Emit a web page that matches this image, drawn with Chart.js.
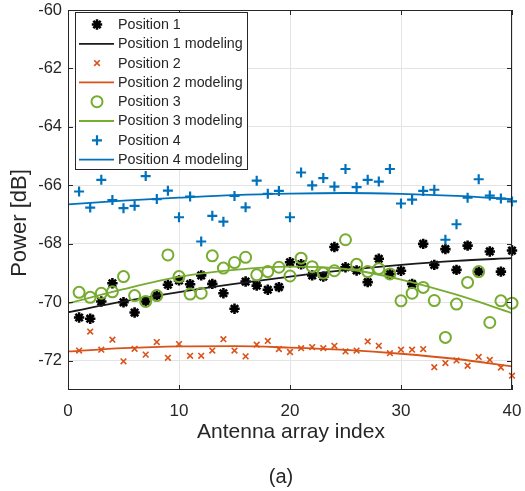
<!DOCTYPE html>
<html>
<head>
<meta charset="utf-8">
<script src="https://cdn.jsdelivr.net/npm/chart.js@4.4.1/dist/chart.umd.min.js"></script>
<style>
  html, body { margin: 0; padding: 0; background: #fff; }
  #c { display: block; }
</style>
</head>
<body>
<canvas id="c" width="525" height="491"></canvas>
<script>
// Measured received power per antenna element, four user positions
const antennaIndex = [1,2,3,4,5,6,7,8,9,10,11,12,13,14,15,16,17,18,19,20,
                      21,22,23,24,25,26,27,28,29,30,31,32,33,34,35,36,37,38,39,40];

const pos1 = [-70.52,-70.56,-69.97,-69.35,-70.00,-70.35,-69.97,-69.77,-69.40,-69.25,
              -69.38,-69.08,-69.37,-69.69,-70.22,-69.29,-69.43,-69.57,-69.48,-68.63,
              -68.70,-69.08,-69.12,-68.11,-68.80,-68.91,-69.31,-68.51,-69.03,-68.92,
              -69.37,-68.00,-68.72,-68.18,-68.89,-68.06,-68.95,-68.26,-68.95,-68.23];

const pos2 = [-71.65,-71.00,-71.62,-71.28,-72.02,-71.59,-71.79,-71.36,-71.90,-71.43,
              -71.83,-71.83,-71.65,-71.26,-71.65,-71.85,-71.45,-71.32,-71.60,-71.70,
              -71.57,-71.53,-71.57,-71.49,-71.68,-71.65,-71.34,-71.49,-71.74,-71.62,
              -71.62,-71.60,-72.22,-72.08,-71.99,-72.17,-71.87,-71.97,-72.23,-72.51];

const pos3 = [-69.66,-69.83,-69.69,-69.64,-69.12,-69.77,-69.97,-69.77,-68.38,-69.12,
              -69.72,-69.69,-68.41,-68.83,-68.64,-68.46,-69.06,-68.95,-68.80,-69.10,
              -68.49,-68.78,-69.00,-68.92,-67.86,-68.70,-68.95,-68.85,-69.03,-69.95,
              -69.69,-69.49,-69.94,-71.20,-70.06,-69.32,-68.95,-70.69,-69.95,-70.03];

const pos4 = [-66.21,-66.76,-65.81,-66.50,-66.78,-66.70,-65.68,-66.47,-66.18,-67.09,
              -66.38,-67.92,-67.04,-67.24,-66.36,-66.75,-65.84,-66.29,-66.19,-67.09,
              -65.56,-66.00,-65.75,-66.04,-65.44,-66.06,-65.81,-65.87,-65.44,-66.62,
              -66.49,-66.19,-66.15,-67.86,-67.33,-66.42,-65.79,-66.35,-66.45,-66.55];

// Modeled power curves, sampled along the array
const modelX = [0, 5, 10, 15, 20, 25, 30, 35, 40];
const pos1Model = [-70.34,-69.97,-69.65,-69.37,-69.12,-68.90,-68.72,-68.58,-68.49];
const pos2Model = [-71.68,-71.57,-71.51,-71.50,-71.55,-71.63,-71.76,-71.94,-72.19];
const pos3Model = [-70.04,-69.55,-69.13,-68.89,-68.78,-68.86,-69.22,-69.74,-70.37];
const pos4Model = [-66.65,-66.52,-66.42,-66.33,-66.28,-66.26,-66.29,-66.36,-66.47];

const xTicks = [0, 10, 20, 30, 40];
const yTicks = [-72, -70, -68, -66, -64, -62, -60];

const FONT = '"Liberation Sans", Arial, Helvetica, sans-serif';
const TEXT = '#262626';
const C_BLACK = '#000000', C_ORANGE = '#D95319', C_GREEN = '#77AC30', C_BLUE = '#0072BD';

const pts = (xs, ys) => xs.map((x, i) => ({ x, y: ys[i] }));

function markerSet(label, ys, style) {
  return Object.assign({
    label,
    data: pts(antennaIndex, ys),
    showLine: false,
    clip: false
  }, style);
}
function modelSet(label, ys, color) {
  return {
    label,
    data: pts(modelX, ys),
    showLine: true,
    borderColor: color,
    backgroundColor: color,
    borderWidth: 1.8,
    pointRadius: 0,
    pointHoverRadius: 0,
    tension: 0.4,
    cubicInterpolationMode: 'monotone'
  };
}

const datasets = [
  markerSet('Position 1', pos1, { pointStyle: 'star', pointRadius: 5.2, borderWidth: 2.6,
    borderColor: C_BLACK, backgroundColor: C_BLACK }),
  modelSet('Position 1 modeling', pos1Model, '#1a1a1a'),
  markerSet('Position 2', pos2, { pointStyle: 'crossRot', pointRadius: 4, borderWidth: 1.6,
    borderColor: C_ORANGE, backgroundColor: C_ORANGE }),
  modelSet('Position 2 modeling', pos2Model, C_ORANGE),
  markerSet('Position 3', pos3, { pointStyle: 'circle', pointRadius: 5.5, borderWidth: 2,
    borderColor: C_GREEN, backgroundColor: 'rgba(0,0,0,0)' }),
  modelSet('Position 3 modeling', pos3Model, C_GREEN),
  markerSet('Position 4', pos4, { pointStyle: 'cross', pointRadius: 5, borderWidth: 2.2,
    borderColor: C_BLUE, backgroundColor: C_BLUE }),
  modelSet('Position 4 modeling', pos4Model, C_BLUE)
];
// later series sit on top of earlier ones
datasets.forEach((d, i) => { d.order = datasets.length - i; });

// Axes box with inward ticks, axis titles, caption and legend
const decorations = {
  id: 'decorations',
  afterDraw(chart) {
    const ctx = chart.ctx;
    const a = chart.chartArea;
    const xs = chart.scales.x, ys = chart.scales.y;
    ctx.save();

    // box
    ctx.strokeStyle = TEXT;
    ctx.lineWidth = 1;
    ctx.strokeRect(a.left + 0.5, a.top + 0.5, a.right - a.left - 1, a.bottom - a.top - 1);

    // inward tick marks on all four sides
    const tl = 5;
    ctx.beginPath();
    xTicks.forEach(v => {
      const px = Math.round(xs.getPixelForValue(v)) + 0.5;
      ctx.moveTo(px, a.bottom); ctx.lineTo(px, a.bottom - tl);
      ctx.moveTo(px, a.top); ctx.lineTo(px, a.top + tl);
    });
    yTicks.forEach(v => {
      const py = Math.round(ys.getPixelForValue(v)) + 0.5;
      ctx.moveTo(a.left, py); ctx.lineTo(a.left + tl, py);
      ctx.moveTo(a.right, py); ctx.lineTo(a.right - tl, py);
    });
    ctx.stroke();

    // axis titles and caption
    ctx.fillStyle = TEXT;
    ctx.textAlign = 'center';
    ctx.textBaseline = 'middle';
    ctx.font = '21px ' + FONT;
    ctx.fillText('Antenna array index', (a.left + a.right) / 2 + 1, 432);
    ctx.font = '20px ' + FONT;
    ctx.fillText('(a)', 281, 477);
    ctx.save();
    ctx.translate(20, 223);
    ctx.rotate(-Math.PI / 2);
    ctx.font = '22px ' + FONT;
    ctx.fillText('Power [dB]', 0, 0);
    ctx.restore();

    // legend
    const L = { x: 75.5, y: 12.5, w: 172, h: 157, row: 19.3, first: 24.5 };
    ctx.fillStyle = '#ffffff';
    ctx.fillRect(L.x, L.y, L.w, L.h);
    ctx.strokeStyle = TEXT;
    ctx.lineWidth = 1;
    ctx.strokeRect(L.x, L.y, L.w, L.h);
    ctx.font = '14.3px ' + FONT;
    ctx.textAlign = 'left';
    chart.data.datasets.forEach((d, i) => {
      const cy = L.first + i * L.row;
      if (d.showLine) {
        ctx.strokeStyle = d.borderColor;
        ctx.lineWidth = d.borderWidth;
        ctx.beginPath();
        ctx.moveTo(79, cy); ctx.lineTo(114, cy);
        ctx.stroke();
      } else {
        ctx.strokeStyle = d.borderColor;
        ctx.fillStyle = d.backgroundColor;
        ctx.lineWidth = d.borderWidth;
        Chart.helpers.drawPoint(ctx, {
          pointStyle: d.pointStyle, radius: d.pointRadius, rotation: 0, borderWidth: d.borderWidth
        }, 97, cy);
      }
      ctx.fillStyle = TEXT;
      ctx.fillText(d.label, 118, cy + 0.5);
    });
    ctx.restore();
  }
};

const noEdgePadding = s => {
  s.paddingLeft = 0; s.paddingRight = 0; s.paddingTop = 0; s.paddingBottom = 0;
};

new Chart(document.getElementById('c'), {
  type: 'scatter',
  data: { datasets },
  options: {
    responsive: false,
    animation: false,
    devicePixelRatio: 1,
    layout: { padding: { top: 10, right: 13, left: 0, bottom: 0 } },
    plugins: { legend: { display: false }, tooltip: { enabled: false } },
    scales: {
      x: {
        type: 'linear', min: 0, max: 40,
        afterBuildTicks: s => { s.ticks = xTicks.map(v => ({ value: v })); },
        afterFit: s => { s.height = 101; noEdgePadding(s); },
        grid: { color: '#e4e4e4', lineWidth: 1, drawTicks: false },
        border: { display: false },
        ticks: { color: TEXT, font: { family: FONT, size: 17 }, padding: 11, maxRotation: 0 }
      },
      y: {
        type: 'linear', min: -73, max: -60,
        afterBuildTicks: s => { s.ticks = yTicks.map(v => ({ value: v })); },
        afterFit: s => { s.width = 68; noEdgePadding(s); },
        grid: { color: '#e4e4e4', lineWidth: 1, drawTicks: false },
        border: { display: false },
        ticks: { color: TEXT, font: { family: FONT, size: 16.5 }, padding: 6 }
      }
    }
  },
  plugins: [decorations]
});
</script>
</body>
</html>
